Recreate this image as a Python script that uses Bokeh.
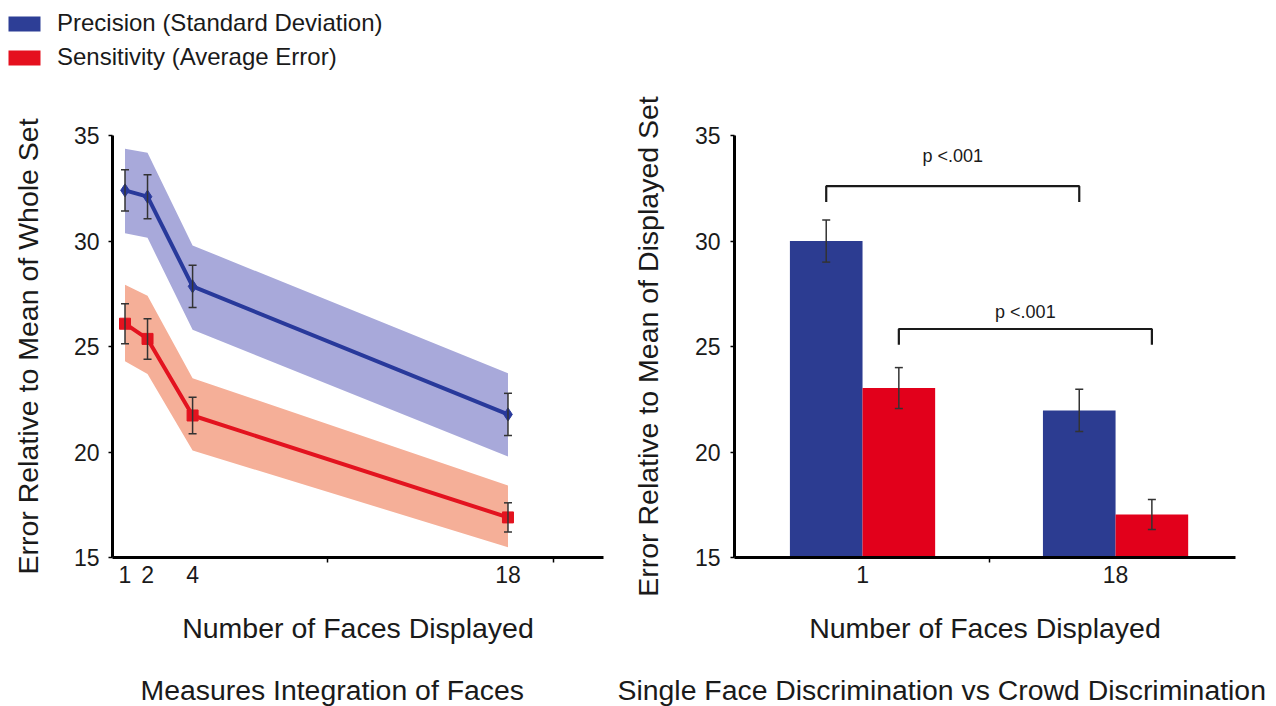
from bokeh.plotting import figure
from bokeh.layouts import column, row
from bokeh.models import (ColumnDataSource, Whisker, TeeHead, FixedTicker, Range1d,
                          Legend, LegendItem, Title)
from bokeh.embed import file_html
from bokeh.resources import INLINE
from bokeh.core.properties import value

# ---------------- data ----------------
series_names = ["Precision (Standard Deviation)", "Sensitivity (Average Error)"]
panel_titles = ["Measures Integration of Faces",
                "Single Face Discrimination vs Crowd Discrimination"]
x_label = "Number of Faces Displayed"

# left panel: integration of faces
faces_left = [1, 2, 4, 18]
precision_mean = [32.4, 32.1, 27.85, 21.78]
precision_err = [0.98, 1.04, 1.0, 1.0]
precision_band_low = [30.37, 30.15, 25.79, 19.79]
precision_band_high = [34.37, 34.18, 29.79, 23.73]
sensitivity_mean = [26.08, 25.36, 21.73, 16.9]
sensitivity_err = [0.95, 0.96, 0.87, 0.69]
sensitivity_band_low = [24.3, 23.7, 20.07, 15.49]
sensitivity_band_high = [27.93, 27.4, 23.5, 18.41]

# right panel: single face vs crowd discrimination
groups = ["1", "18"]
precision_bar = [30.0, 21.97]
precision_bar_err = [1.0, 1.0]
sensitivity_bar = [23.03, 17.04]
sensitivity_bar_err = [0.97, 0.71]

# significance brackets (series compared across groups)
bracket_series = [0, 1]
bracket_height = [32.6, 25.83]
bracket_leg = 0.75
bracket_text = ["p <.001", "p <.001"]
bracket_text_y = [34.05, 26.65]

y_ticks = [15, 20, 25, 30, 35]
minor_ticks_left = [10, 20]

# ---------------- styles ----------------
FONT = "Liberation Sans"
TXT = "#1a1a1a"
BLUE_LINE = "#28399b"
BLUE_BAND = "#a8a9da"
RED_LINE = "#e3131f"
RED_BAND = "#f5af98"
BAR_BLUE = "#2c3c91"
BAR_RED = "#e2001b"
LEG_BLUE = "#2d3e96"
LEG_RED = "#e5101e"
ERR = "#333333"


def style_axes(p, ylabel, ystand, label_stand):
    for ax in (p.xaxis[0], p.yaxis[0]):
        ax.axis_line_width = 3
        ax.axis_line_color = "black"
        ax.major_label_text_font = FONT
        ax.major_label_text_font_size = "23px"
        ax.major_label_text_color = TXT
        ax.axis_label_text_font = FONT
        ax.axis_label_text_font_size = "28.5px"
        ax.axis_label_text_font_style = "normal"
        ax.axis_label_text_color = TXT
        ax.major_tick_line_color = "black"
        ax.minor_tick_line_color = "black"
    ya = p.yaxis[0]
    ya.ticker = FixedTicker(ticks=y_ticks)
    ya.major_tick_out = 4
    ya.major_tick_in = 0
    ya.major_tick_line_width = 1.5
    ya.major_label_standoff = label_stand
    ya.axis_label = ylabel
    ya.axis_label_standoff = ystand
    xa = p.xaxis[0]
    xa.major_tick_out = 0
    xa.major_tick_in = 0
    xa.minor_tick_out = 5
    xa.minor_tick_in = 0
    xa.minor_tick_line_width = 1.5
    xa.major_label_standoff = 3
    p.grid.visible = False
    p.outline_line_color = None


def err_whisker(src, lo, hi):
    return Whisker(base="x", lower=lo, upper=hi, source=src, level="overlay",
                   line_color=ERR, line_width=1.5,
                   upper_head=TeeHead(size=8, line_color=ERR, line_width=1.5),
                   lower_head=TeeHead(size=8, line_color=ERR, line_width=1.5))


def add_bottom_texts(p, title, dx):
    # x-axis caption (centred under the frame), then the panel title below it
    p.add_layout(Title(text=x_label, align="center", vertical_align="top", standoff=52,
                       text_font=FONT, text_font_size="28.5px", text_font_style="normal",
                       text_color=TXT), "below")
    p.add_layout(Title(text=title, align="left", offset=dx, vertical_align="bottom",
                       standoff=0, text_font=FONT, text_font_size="28.4px",
                       text_font_style="normal", text_color=TXT), "below")


xpos = list(range(1, len(groups) + 1))

# ---------------- legend strip ----------------
lf = figure(width=1276, height=80, output_backend="svg", toolbar_location=None,
            x_range=Range1d(-2, -1), y_range=Range1d(-2, -1),
            x_axis_location=None, y_axis_location=None, min_border=0,
            outline_line_color=None)
lf.grid.visible = False
# legend proxies: the bar data, lying outside this strip's visible range
lb = lf.vbar(x=xpos, top=precision_bar, bottom=y_ticks[0], width=0.3,
             fill_color=LEG_BLUE, line_color=None)
lr = lf.vbar(x=xpos, top=sensitivity_bar, bottom=y_ticks[0], width=0.3,
             fill_color=LEG_RED, line_color=None)
legend = Legend(items=[LegendItem(label=series_names[0], renderers=[lb]),
                       LegendItem(label=series_names[1], renderers=[lr])],
                location=(4, 9), padding=0, margin=0, spacing=6,
                glyph_width=40, glyph_height=19, label_height=20, label_standoff=13,
                label_text_font=FONT, label_text_font_size="24px", label_text_color=TXT,
                border_line_color=None, background_fill_alpha=0)
lf.add_layout(legend)

# ---------------- left panel ----------------
p1 = figure(width=610, height=626, output_backend="svg", toolbar_location=None,
            x_range=Range1d(0.445, 22.24), y_range=Range1d(y_ticks[0], y_ticks[-1]),
            min_border_left=112, min_border_right=7, min_border_top=55, min_border_bottom=149)
style_axes(p1, "Error Relative to Mean of Whole Set", 27, 9)
p1.xaxis[0].ticker = FixedTicker(ticks=faces_left, minor_ticks=minor_ticks_left)

src_l = ColumnDataSource(dict(
    x=faces_left,
    pm=precision_mean, pl=precision_band_low, ph=precision_band_high,
    pel=[m - e for m, e in zip(precision_mean, precision_err)],
    peh=[m + e for m, e in zip(precision_mean, precision_err)],
    sm=sensitivity_mean, sl=sensitivity_band_low, sh=sensitivity_band_high,
    sel=[m - e for m, e in zip(sensitivity_mean, sensitivity_err)],
    seh=[m + e for m, e in zip(sensitivity_mean, sensitivity_err)],
))
p1.varea(x="x", y1="pl", y2="ph", source=src_l, fill_color=BLUE_BAND)
p1.varea(x="x", y1="sl", y2="sh", source=src_l, fill_color=RED_BAND)
p1.line(x="x", y="pm", source=src_l, line_color=BLUE_LINE, line_width=4)
p1.line(x="x", y="sm", source=src_l, line_color=RED_LINE, line_width=4)
p1.scatter(x="x", y="pm", source=src_l, marker="diamond", size=13,
           fill_color=BLUE_LINE, line_color=BLUE_LINE)
p1.scatter(x="x", y="sm", source=src_l, marker="square", size=11,
           fill_color=RED_LINE, line_color=RED_LINE)
p1.add_layout(err_whisker(src_l, "pel", "peh"))
p1.add_layout(err_whisker(src_l, "sel", "seh"))
add_bottom_texts(p1, panel_titles[0], 28)

# ---------------- right panel ----------------
bar_w = 0.287
off = bar_w / 2
p2 = figure(width=666, height=626, output_backend="svg", toolbar_location=None,
            x_range=Range1d(0.494, 2.474), y_range=Range1d(y_ticks[0], y_ticks[-1]),
            min_border_left=124, min_border_right=41, min_border_top=55, min_border_bottom=149)
style_axes(p2, "Error Relative to Mean of Displayed Set", 28, 10)
p2.xaxis[0].ticker = FixedTicker(ticks=xpos, minor_ticks=[(xpos[0] + xpos[1]) / 2])
p2.xaxis[0].major_label_overrides = {x: g for x, g in zip(xpos, groups)}

bar_x = [[x - off for x in xpos], [x + off for x in xpos]]
bar_vals = [precision_bar, sensitivity_bar]
bar_errs = [precision_bar_err, sensitivity_bar_err]
bar_cols = [BAR_BLUE, BAR_RED]
for bx, bv, be, bc in zip(bar_x, bar_vals, bar_errs, bar_cols):
    s = ColumnDataSource(dict(x=bx, top=bv,
                              lo=[v - e for v, e in zip(bv, be)],
                              hi=[v + e for v, e in zip(bv, be)]))
    p2.vbar(x="x", top="top", bottom=y_ticks[0], width=bar_w, source=s,
            fill_color=bc, line_color=None)
    p2.add_layout(err_whisker(s, "lo", "hi"))

br_xs, br_ys, tx = [], [], []
for si, h in zip(bracket_series, bracket_height):
    xa, xb = bar_x[si][0], bar_x[si][1]
    br_xs.append([xa, xa, xb, xb])
    br_ys.append([h - bracket_leg, h, h, h - bracket_leg])
    tx.append((xa + xb) / 2)
p2.multi_line(xs=br_xs, ys=br_ys, line_color="#1a1a1a", line_width=2.2)
p2.text(x=tx, y=bracket_text_y, text=bracket_text, text_align="center",
        text_baseline="middle", text_font=value(FONT), text_font_size="18px",
        text_color=TXT)
add_bottom_texts(p2, panel_titles[1], -117)

layout = column(lf, row(p1, p2))
open("out.html", "w").write(file_html(layout, INLINE))
